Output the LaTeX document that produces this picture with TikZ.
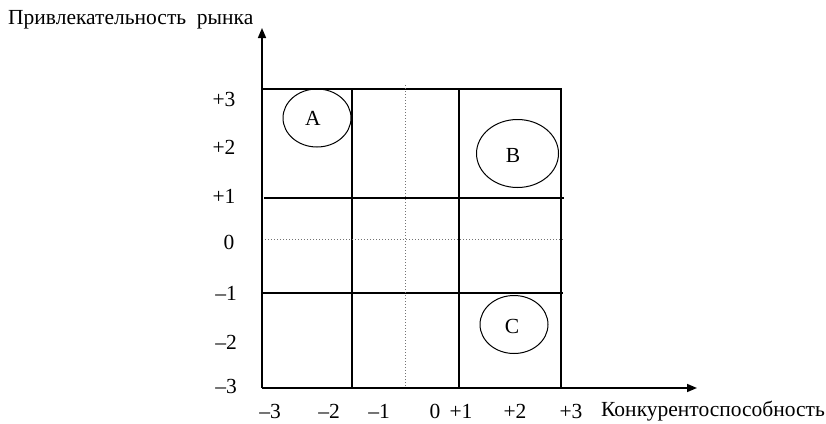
\documentclass[tikz,border=0pt]{standalone}
\usepackage{fontspec}
\setmainfont{Liberation Serif}
\usetikzlibrary{arrows.meta,shapes.geometric}
\begin{document}
\begin{tikzpicture}[x=1pt,y=-1pt,
  grid/.style={line width=1.25pt,black},
  dotline/.style={line width=1pt,black!55,dotted},
  axis/.style={line width=1.6pt,-{Triangle[length=10pt,width=8pt]}},
  lbl/.style={font=\fontsize{21.5}{24}\selectfont,inner sep=0pt},
  oval/.style={draw,ellipse,line width=1pt,inner sep=0pt}]
\useasboundingbox (0,0) rectangle (826,423);
% corner coordinates
\coordinate (O) at (262,388);
\coordinate (Ytop) at (262,28);
\coordinate (Xend) at (697,388);
\coordinate (TL) at (262,89);
\coordinate (TR) at (561,89);
\coordinate (BR) at (561,388);
% grid lines
\coordinate (v1t) at (352,89); \coordinate (v1b) at (352,388);
\coordinate (v2t) at (459,89); \coordinate (v2b) at (459,388);
\coordinate (vdt) at (405,85); \coordinate (vdb) at (405,388);
\coordinate (h1l) at (264,198); \coordinate (h1r) at (564,198);
\coordinate (h0l) at (262,239); \coordinate (h0r) at (563,239);
\coordinate (hml) at (263,293); \coordinate (hmr) at (563,293);
\draw[grid] (TL) -- (TR) -- (BR);
\draw[grid] (v1t) -- (v1b);
\draw[grid] (v2t) -- (v2b);
\draw[grid] (h1l) -- (h1r);
\draw[grid] (hml) -- (hmr);
\draw[dotline] (vdt) -- (vdb);
\draw[dotline] (h0l) -- (h0r);
\draw[axis] (O) -- (Ytop);
\draw[axis] (O) -- (Xend);
% ovals
\node[oval,minimum width=68pt,minimum height=58pt] (A) at (317,118) {};
\node[oval,minimum width=82pt,minimum height=68pt] (B) at (517.5,153.5) {};
\node[oval,minimum width=68pt,minimum height=58pt] (C) at (514,324.5) {};
\node[lbl] (la) at (313,118) {A};
\node[lbl] (lb) at (513,155) {B};
\node[lbl] (lc) at (512,326) {C};
% axis titles
\node[lbl,anchor=west] (ytitle) at (8,20) {Привлекательность\ \ рынка};
\node[lbl,anchor=west] (xtitle) at (601,411) {Конкурентоспособность};
% y tick labels
\node[lbl] (y3) at (224,99) {+3};
\node[lbl] (y2) at (224,147) {+2};
\node[lbl] (y1) at (224,196) {+1};
\node[lbl] (y0) at (229,242) {0};
\node[lbl] (ym1) at (226,293) {\symbol{"2013}1};
\node[lbl] (ym2) at (226,342) {\symbol{"2013}2};
\node[lbl] (ym3) at (226,386) {\symbol{"2013}3};
% x tick labels
\node[lbl] (xm3) at (270,411) {\symbol{"2013}3};
\node[lbl] (xm2) at (329,411) {\symbol{"2013}2};
\node[lbl] (xm1) at (379,411) {\symbol{"2013}1};
\node[lbl] (x0) at (435,411) {0};
\node[lbl] (x1) at (461,411) {+1};
\node[lbl] (x2) at (515,411) {+2};
\node[lbl] (x3) at (571,411) {+3};
\end{tikzpicture}
\end{document}
